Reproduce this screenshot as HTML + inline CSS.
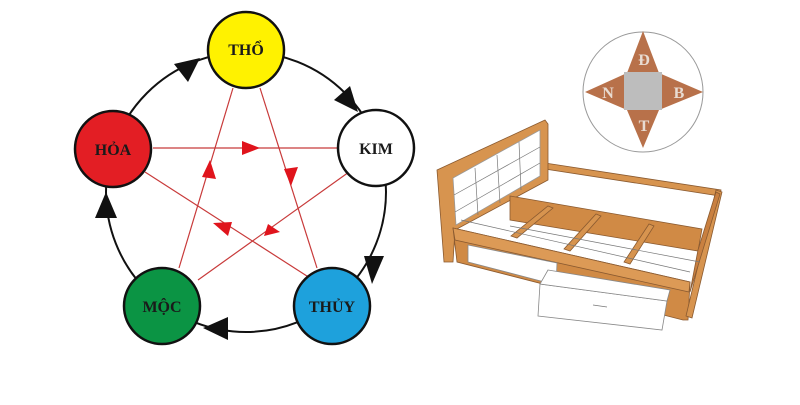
<!DOCTYPE html>
<html><head><meta charset="utf-8"><style>
html,body{margin:0;padding:0;background:#fff;width:800px;height:405px;overflow:hidden}
svg{display:block}
text{font-family:"Liberation Serif",serif;font-weight:bold}
</style></head><body>
<svg width="800" height="405" viewBox="0 0 800 405">
<!-- outer circle -->
<circle cx="246" cy="192" r="140" fill="none" stroke="#111" stroke-width="2"/>
<!-- black arrowheads -->
<g fill="#111">
<polygon points="200,58 174,64 188,82"/>
<polygon points="358,112 350,86 334,100"/>
<polygon points="372,284 384,256 364,256"/>
<polygon points="203,328 228,317 228,340"/>
<polygon points="106,192 95,218 117,218"/>
</g>
<!-- red star lines -->
<g stroke="#c83a3a" stroke-width="1.2" fill="none">
<line x1="153" y1="148" x2="342" y2="148"/>
<line x1="233" y1="88" x2="179" y2="268"/>
<line x1="260" y1="88" x2="317" y2="268"/>
<line x1="349" y1="172" x2="198" y2="280"/>
<line x1="145" y1="172" x2="310" y2="278"/>
</g>
<g fill="#e0141c">
<polygon points="260,148 242,141 242,155"/>
<polygon points="210,160 202,177 216,179"/>
<polygon points="291,186 284,169 298,167"/>
<polygon points="268,224 264,236 280,232"/>
<polygon points="213,223 228,236 232,222"/>
</g>
<!-- nodes -->
<g stroke="#111" stroke-width="2.5">
<circle cx="246" cy="50" r="38" fill="#fff200"/>
<circle cx="376" cy="148" r="38" fill="#fff"/>
<circle cx="113" cy="149" r="38" fill="#e31e24"/>
<circle cx="162" cy="306" r="38" fill="#0b9444"/>
<circle cx="332" cy="306" r="38" fill="#1ea1dc"/>
</g>
<g font-size="16" text-anchor="middle" fill="#1a1a1a">
<text x="246" y="55">THỔ</text>
<text x="376" y="154">KIM</text>
<text x="113" y="155">HỎA</text>
<text x="162" y="312">MỘC</text>
<text x="332" y="312">THỦY</text>
</g>
<!-- compass -->
<circle cx="643" cy="92" r="60" fill="#fff" stroke="#999" stroke-width="1"/>
<polygon points="643,31 659,73 703,92 659,110 643,148 627,110 585,92 627,73" fill="#b8714a"/>
<rect x="624" y="72" width="38" height="38" fill="#bdbdbd"/>
<g font-size="16" fill="#e8dcd2" text-anchor="middle">
<text x="644" y="65">Đ</text>
<text x="608" y="98">N</text>
<text x="679" y="98">B</text>
<text x="644" y="131">T</text>
</g>
<!-- bed -->
<g stroke="#8a5a30" stroke-width="0.8">
<polygon points="545,163 721,190 720,196 545,169" fill="#d7944f"/>
<polygon points="437,170 545,120 548,124 548,180 455,230 453,262 444,262" fill="#d7944f"/>
<polygon points="453,178 540,130 540,176 456,225" fill="#fff" stroke="#999"/>
<polygon points="510,196 702,229 698,251 510,220" fill="#d08a45"/>
<polygon points="548,206 553,208 517,238 511,236" fill="#d7944f"/>
<polygon points="596,214 601,216 570,251 564,249" fill="#d7944f"/>
<polygon points="649,224 654,226 630,264 624,262" fill="#d7944f"/>
<polygon points="453,228 690,282 688,320 683,320 457,262" fill="#d08a45"/>
<polygon points="453,228 690,282 689,292 455,240" fill="#dc9a56"/>
<polygon points="716,190 722,192 692,318 686,316" fill="#d7944f"/>
<polygon points="698,250 716,192 720,194 690,292" fill="#c98040"/>
<polygon points="468,245 557,263 556,285 468,262" fill="#fff" stroke="#888"/>
<polygon points="540,284 667,301 662,330 538,316" fill="#fff" stroke="#888"/>
<polygon points="548,270 670,290 667,301 540,284" fill="#fff" stroke="#888"/>
</g>
<g stroke="#777" stroke-width="0.7" fill="none">
<line x1="475" y1="168" x2="478" y2="215"/><line x1="497" y1="155" x2="500" y2="203"/><line x1="519" y1="142" x2="521" y2="190"/>
<line x1="454" y1="195" x2="540" y2="147"/><line x1="455" y1="212" x2="540" y2="163"/>
<line x1="461" y1="220" x2="690" y2="272"/><line x1="510" y1="226" x2="700" y2="262"/>
<line x1="593" y1="305" x2="607" y2="307"/>
</g>
</svg>
</body></html>
